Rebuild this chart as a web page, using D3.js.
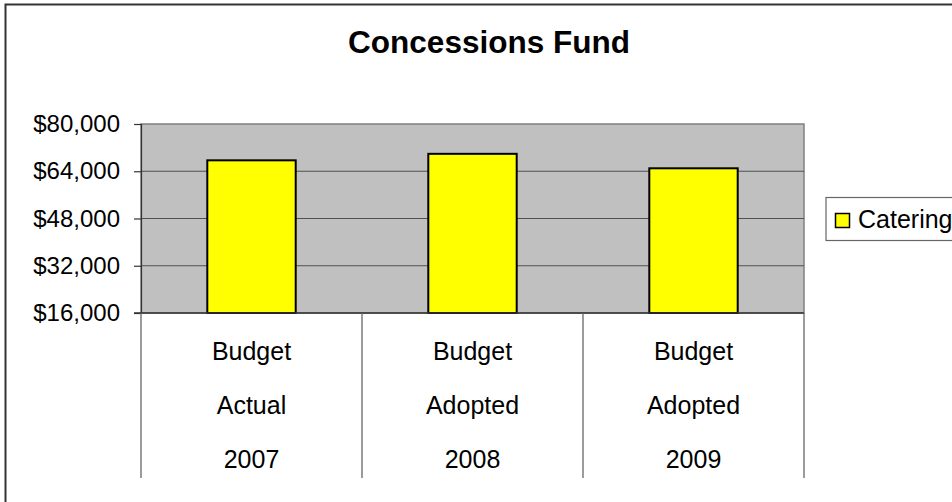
<!DOCTYPE html>
<html><head><meta charset="utf-8">
<script src="https://cdn.jsdelivr.net/npm/d3@7"></script>
<style>body{margin:0;background:#fff}svg{display:block;font-family:"Liberation Sans",Arial,sans-serif}</style>
</head><body>
<script>
const categories = [["Budget","Actual","2007"],["Budget","Adopted","2008"],["Budget","Adopted","2009"]];
const catering = [67700, 69900, 65000];
const yTicks = [16000, 32000, 48000, 64000, 80000];
const seriesName = "Catering";
const title = "Concessions Fund";

const W = 952, H = 502;
const svg = d3.select("body").append("svg").attr("width", W).attr("height", H);
svg.append("rect").attr("x",5.5).attr("y",4.5).attr("width",W+10).attr("height",H+10)
  .attr("fill","#fff").attr("stroke","#333").attr("stroke-width",2);

const pl = 141, pr = 804, pt = 124, pb = 313;
const x = d3.scaleBand().domain(d3.range(categories.length)).range([pl, pr]).paddingInner(0).paddingOuter(0);
const y = d3.scaleLinear().domain([16000, 80000]).range([pb, pt]);

svg.append("rect").attr("x",pl).attr("y",pt).attr("width",pr-pl).attr("height",pb-pt)
  .attr("fill","#c0c0c0").attr("stroke","#808080").attr("stroke-width",1.5);

svg.append("g").selectAll("line").data(yTicks.slice(1,-1)).join("line")
  .attr("x1",pl).attr("x2",pr).attr("y1",d=>y(d)).attr("y2",d=>y(d))
  .attr("stroke","#505050").attr("stroke-width",1.2);

// y axis
const ya = svg.append("g").attr("transform",`translate(${pl},0)`)
  .call(d3.axisLeft(y).tickValues(yTicks).tickSize(7).tickPadding(14).tickFormat(d=>"$"+d3.format(",")(d)));
ya.attr("font-size",24).attr("font-family","Liberation Sans, Arial, sans-serif");
ya.select(".domain").attr("stroke","#333").attr("stroke-width",1.2);
ya.selectAll(".tick line").attr("stroke","#333").attr("stroke-width",1.2);
ya.selectAll("text").attr("font-size",24).attr("fill","#000");

// bars
const bw = x.bandwidth()*0.4;
svg.append("g").selectAll("rect").data(catering).join("rect")
  .attr("x",(d,i)=>x(i)+x.bandwidth()/2-bw/2).attr("width",bw)
  .attr("y",d=>y(d)).attr("height",d=>pb-y(d))
  .attr("fill","#ffff00").attr("stroke","#000").attr("stroke-width",2);

// x axis baseline and category dividers
svg.append("line").attr("x1",pl-7).attr("x2",pr).attr("y1",pb).attr("y2",pb).attr("stroke","#333").attr("stroke-width",1.5);
const divs = d3.range(categories.length+1).map(i=> i<categories.length ? x(i) : pr);
svg.append("g").selectAll("line").data(divs).join("line")
  .attr("x1",d=>d).attr("x2",d=>d).attr("y1",pb).attr("y2",478)
  .attr("stroke","#666").attr("stroke-width",1.3);

const labs = svg.append("g").selectAll("text").data(categories).join("text")
  .attr("text-anchor","middle").attr("font-size",25).attr("fill","#000");
labs.each(function(d,i){
  const t = d3.select(this);
  d.forEach((s,j)=>t.append("tspan").attr("x",x(i)+x.bandwidth()/2).attr("y",360+j*54).text(s));
});

// title
svg.append("text").attr("x",489).attr("y",53).attr("text-anchor","middle")
  .attr("font-size",31.5).attr("font-weight","bold").text(title);

// legend
const lg = svg.append("g");
lg.append("rect").attr("x",826).attr("y",197.5).attr("width",140).attr("height",43)
  .attr("fill","#fff").attr("stroke","#666").attr("stroke-width",1.2);
lg.append("rect").attr("x",835.5).attr("y",213.5).attr("width",14).attr("height",14)
  .attr("fill","#ffff00").attr("stroke","#000").attr("stroke-width",1.5);
lg.append("text").attr("x",858).attr("y",228).attr("font-size",25).text(seriesName);
</script>
</body></html>
